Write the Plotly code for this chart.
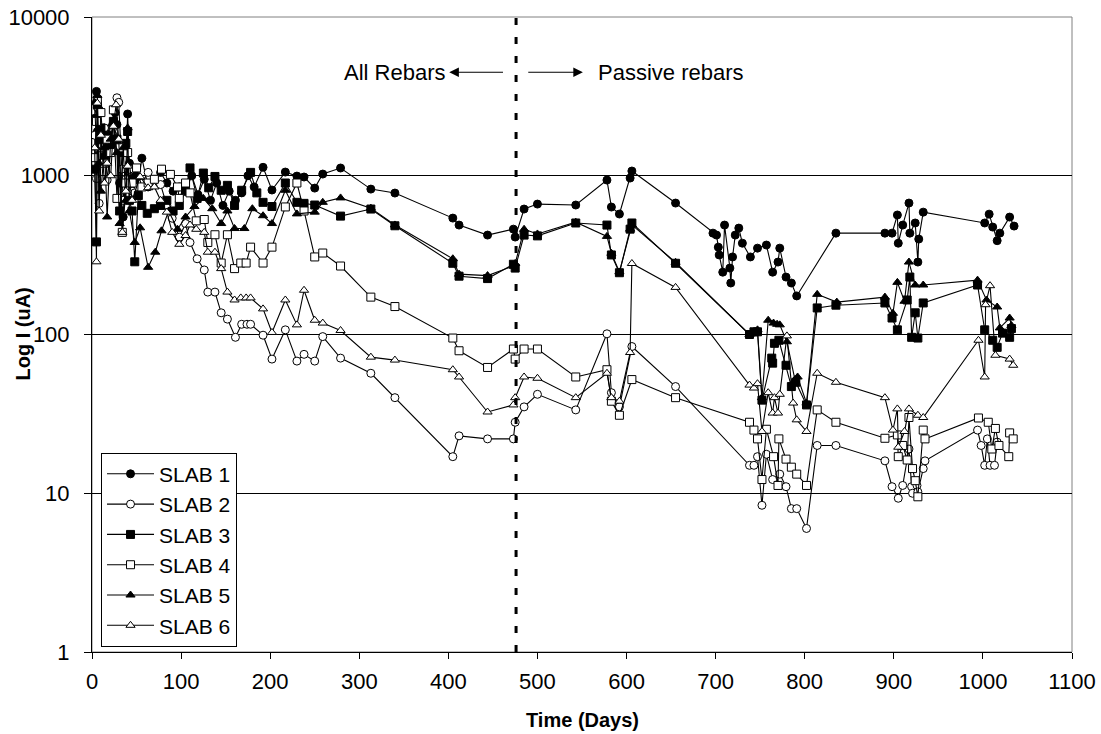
import plotly.graph_objects as go

# ---- Corrosion current readings per slab (Time in days, I in uA) ----
slab1_days = [3, 5, 6, 8, 10, 14, 17, 21, 24, 26, 28, 31, 35, 38, 40, 42, 45, 49, 52, 56, 63, 70, 77, 84, 91, 98,
              105, 112, 119, 126, 133, 140, 147, 154, 161, 168, 175, 182, 192, 202,
              217, 230, 238, 250, 259, 279, 313, 340, 405, 412, 444, 473, 475, 485, 500, 543, 578, 583, 592, 604, 606, 655,
              697, 701, 703, 704, 708, 710, 716, 717, 719, 722, 726, 730, 739, 747, 757, 764, 770, 772, 779, 785, 791, 835,
              890, 898, 904, 905, 910, 917, 918, 924, 927, 928, 933,
              1002, 1007, 1011, 1016, 1019, 1030, 1035]
slab1_vals = [2300, 3400, 1900, 2600, 1500, 1700, 1400, 2000, 1600, 2500, 2100, 900, 550, 1100, 2450, 1200, 950, 1000, 900, 1290, 850, 900, 1050, 900, 800, 850,
              800, 1000, 760, 950, 700, 900, 650, 800, 700, 780, 1000, 850, 1130, 813,
              1055, 995, 982, 836, 1025, 1119, 824, 778, 541, 489, 423, 461, 411, 617, 663, 654, 939, 635, 574, 967, 1071, 673,
              435, 423, 355, 317, 247, 489, 262, 211, 308, 423, 468, 376, 308, 350, 366, 247, 286, 350, 230, 211, 175, 435,
              435, 435, 566, 376, 489, 673, 435, 504, 286, 399, 590,
              504, 573, 475, 390, 435, 549, 482]

slab2_days = [3, 5, 6, 8, 10, 14, 17, 21, 24, 28, 30, 33, 35, 38, 42, 45, 48, 52, 56, 63, 70, 77, 84, 90, 98,
              105, 110, 118, 126, 130, 138, 145, 152, 161, 168, 174, 178, 192, 202,
              217, 230, 238, 250, 259, 279, 313, 340, 405, 412, 444, 473, 475, 485, 500, 543, 578, 583, 592, 606, 655,
              738, 743, 747, 752, 757, 764, 772, 779, 785, 791, 802, 814, 835,
              890, 898, 905, 910, 917, 920, 921, 926, 927, 933, 935,
              994, 998, 1002, 1005, 1008, 1013, 1016]
slab2_vals = [1800, 960, 2700, 670, 1200, 2000, 940, 1500, 1900, 3100, 2900, 1100, 700, 950, 1100, 800, 780, 850, 900, 1050, 920, 880, 650, 540, 410,
              500, 380, 300, 255, 185, 185, 137, 125, 96, 116, 116, 116, 99, 70,
              107, 68, 75, 68, 97, 71, 57, 40, 17, 23, 22, 22, 28, 35, 42, 33.5, 101, 43, 35, 84, 47,
              15, 15, 17, 8.4, 17.6, 12.2, 13.2, 11, 8, 8, 6, 20, 20,
              16, 11, 9.3, 11.2, 19, 11, 10, 11.2, 10.2, 14.3, 16,
              25, 20, 15, 22, 15, 15, 21]

slab3_days = [3, 5, 6, 8, 10, 14, 17, 21, 24, 28, 31, 35, 38, 40, 42, 45, 48, 52, 56, 62, 70, 77, 84, 91, 98,
              105, 110, 118, 125, 131, 138, 145, 152, 160, 168, 178, 185, 192, 202,
              217, 230, 238, 250, 279, 313, 340, 405, 412, 444, 473, 475, 485, 500, 543, 578, 583, 592, 604, 606, 655,
              738, 743, 747, 752, 763, 764, 766, 771, 779, 785, 790, 802, 814, 835,
              890, 898, 904, 915, 918, 920, 924, 927, 933,
              994, 1002, 1011, 1016, 1022, 1030, 1032]
slab3_vals = [1100, 383, 2800, 1600, 2000, 1300, 1800, 1500, 2200, 1700, 600, 1400, 1600, 1900, 700, 600, 287, 750, 650, 580, 620, 650, 700, 600, 650,
              800, 1120, 720, 1040, 840, 990, 810, 870, 650, 810, 1050, 780, 680, 640,
              900, 680, 670, 654, 557, 617, 484, 281, 233, 225, 277, 262, 423, 418, 504, 489, 317, 245, 461, 504, 281,
              100, 104, 104, 38.6, 71, 66, 88, 92, 64, 47, 50, 36, 147, 153,
              158, 127, 107, 165, 230, 96, 137, 95, 158,
              205, 107, 92, 83, 102, 96, 109]

slab4_days = [3, 5, 6, 8, 10, 14, 17, 21, 24, 28, 31, 34, 38, 40, 45, 50, 56, 63, 70, 78, 88, 96, 98,
              105, 110, 117, 126, 130, 138, 145, 152, 160, 167, 173, 178, 192, 202,
              217, 230, 238, 250, 259, 279, 313, 340, 405, 412, 444, 473, 475, 485, 500, 543, 578, 583, 592, 606, 655,
              738, 743, 747, 752, 757, 765, 770, 771, 779, 785, 791, 802, 814, 835,
              890, 904, 905, 910, 915, 917, 921, 924, 927, 933, 935,
              995, 1006, 1010, 1014, 1018, 1029, 1030, 1034]
slab4_vals = [1300, 2200, 3000, 1500, 2500, 1200, 1700, 1400, 2600, 720, 1500, 440, 900, 1400, 900, 1120, 850, 900, 950, 1100, 1020, 850, 720,
              900, 780, 520, 530, 380, 425, 282, 425, 260, 282, 282, 355, 282, 355,
              636, 900, 600, 308, 326, 270, 172, 150, 95, 79, 62, 81, 70, 81, 81, 54, 60, 38, 31, 52, 40,
              28, 25, 22, 12.2, 25.3, 17, 11.2, 22, 16.4, 14.6, 13.2, 11.2, 33.5, 28,
              22.2, 23.3, 17, 20, 16.2, 30, 14.3, 12, 9.5, 25, 22,
              29.8, 28, 19, 25.6, 20, 17, 24, 22]

slab5_days = [3, 5, 6, 8, 10, 14, 17, 21, 24, 28, 31, 35, 38, 40, 42, 48, 54, 63, 71, 78, 86, 96,
              105, 115, 125, 135, 145, 152, 160, 171, 180, 192, 202,
              217, 230, 250, 259, 279, 313, 340, 405, 412, 444, 473, 475, 485, 500, 543, 578, 583, 592, 604, 606, 655,
              738, 747, 752, 759, 765, 769, 772, 780, 789, 792, 802, 814, 836,
              890, 899, 904, 912, 917, 924, 933,
              994, 1004, 1016, 1019, 1030, 1032]
slab5_vals = [2900, 1500, 3200, 1200, 800, 1500, 550, 1700, 2200, 1400, 500, 1500, 700, 2000, 600, 380, 470, 265, 330, 450, 600, 460,
              550, 640, 720, 620, 500, 600, 465, 465, 620, 560, 500,
              810, 575, 590, 680, 725, 625, 490, 300, 240, 235, 270, 280, 460, 430, 510, 415, 325, 248, 461, 490, 285,
              100, 107, 40, 123, 118, 116, 115, 90, 52, 54, 37, 179, 160,
              172, 136, 213, 162, 286, 205, 205,
              220, 165, 149, 110, 127, 114]

slab6_days = [3, 5, 6, 8, 10, 14, 17, 21, 24, 27, 30, 34, 38, 40, 45, 54, 63, 70, 77, 84, 90, 98,
              105, 110, 117, 126, 130, 138, 145, 152, 160, 167, 173, 178, 192, 202,
              217, 230, 238, 250, 259, 279, 313, 340, 405, 412, 444, 473, 475, 485, 500, 543, 578, 583, 592, 604, 606, 655,
              738, 743, 747, 752, 759, 764, 766, 770, 772, 780, 787, 791, 802, 814, 835,
              890, 899, 904, 905, 912, 917, 927, 933,
              995, 1002, 1003, 1008, 1014, 1030, 1034]
slab6_vals = [1500, 287, 2870, 600, 1800, 900, 1200, 1000, 2050, 2800, 1700, 440, 800, 1150, 700, 985, 840, 850, 700, 590, 440, 370,
              420, 490, 460, 440, 330, 330, 260, 185, 165, 170, 170, 170, 145, 103,
              165, 115, 190, 123, 118, 106, 72, 69, 60, 54, 32.5, 36, 40, 54, 53, 40, 57, 40, 38, 77, 280, 198,
              48, 46, 49, 24.5, 43, 32, 40, 32, 42, 98, 37, 29, 24.5, 57, 50,
              40, 25, 34, 19.5, 24.5, 34, 31, 30,
              92, 54, 154, 203, 74, 70, 64]

series = [
    ("SLAB 1", slab1_days, slab1_vals, "circle", "black"),
    ("SLAB 2", slab2_days, slab2_vals, "circle", "white"),
    ("SLAB 3", slab3_days, slab3_vals, "square", "black"),
    ("SLAB 4", slab4_days, slab4_vals, "square", "white"),
    ("SLAB 5", slab5_days, slab5_vals, "triangle-up", "black"),
    ("SLAB 6", slab6_days, slab6_vals, "triangle-up", "white"),
]

# boundary between the "all rebars" and "passive rebars" periods
split_day = 476

FONT = "Liberation Sans, Arial, sans-serif"
LABEL_Y = 0.913  # vertical position (paper) of the period labels

fig = go.Figure()
for name, days, vals, sym, fill in series:
    fig.add_trace(go.Scatter(
        x=days, y=vals, name=name, mode="lines+markers", legendgroup=name,
        line=dict(color="black", width=1.1),
        marker=dict(symbol=sym, size=8, color=fill, line=dict(color="black", width=1)),
    ))

fig.update_layout(
    width=1101, height=734,
    margin=dict(l=92, r=29, t=17, b=82, autoexpand=False),
    paper_bgcolor="white", plot_bgcolor="white",
    font=dict(family=FONT, color="black", size=22),
    showlegend=True,
    legend=dict(
        x=0.0092, y=0.3139, xanchor="left", yanchor="top",
        bgcolor="white", bordercolor="black", borderwidth=1,
        font=dict(family=FONT, size=21, color="black"),
        tracegroupgap=0, itemwidth=47,
    ),
    xaxis=dict(
        range=[0, 1100], tick0=0, dtick=100,
        showgrid=False, zeroline=False, automargin=False,
        showline=True, linecolor="black", linewidth=1,
        ticks="outside", ticklen=6, tickcolor="black",
        ticklabelstandoff=4,
        tickfont=dict(family=FONT, size=22),
    ),
    yaxis=dict(
        type="log", range=[0, 4], automargin=False,
        tickvals=[1, 10, 100, 1000, 10000],
        ticktext=["1", "10", "100", "1000", "10000"],
        showgrid=True, gridcolor="black", gridwidth=1,
        zeroline=False,
        showline=True, linecolor="black", linewidth=1,
        ticks="outside", ticklen=7, tickcolor="black",
        ticklabelstandoff=10,
        tickfont=dict(family=FONT, size=22),
    ),
    shapes=[
        dict(type="rect", xref="paper", yref="paper", x0=0, x1=1, y0=0, y1=1,
             line=dict(color="#808080", width=1), layer="below"),
        dict(type="line", xref="x", yref="paper", x0=split_day, x1=split_day, y0=0, y1=1,
             line=dict(color="black", width=3, dash="7px,12px")),
    ],
    annotations=[
        # axis titles
        dict(text="<b>Time (Days)</b>", xref="paper", yref="paper", x=0.5, y=-0.107,
             xanchor="center", yanchor="middle", showarrow=False,
             font=dict(family=FONT, size=20)),
        dict(text="<b>Log I (uA)</b>", xref="paper", yref="paper", x=-0.0714, y=0.5,
             xanchor="center", yanchor="middle", showarrow=False, textangle=-90,
             font=dict(family=FONT, size=20)),
        # period labels and arrows
        dict(text="All Rebars", xref="x", yref="paper", x=399, y=LABEL_Y,
             xanchor="right", yanchor="middle", showarrow=False,
             font=dict(family=FONT, size=22)),
        dict(text="Passive rebars", xref="x", yref="paper", x=566, y=LABEL_Y,
             xanchor="left", yanchor="middle", showarrow=False,
             font=dict(family=FONT, size=22)),
        dict(text="", xref="x", yref="paper", x=401, y=LABEL_Y,
             ax=463, ay=0, axref="x", ayref="pixel",
             showarrow=True, arrowhead=2, arrowsize=1.6, arrowwidth=1.2, arrowcolor="black"),
        dict(text="", xref="x", yref="paper", x=551, y=LABEL_Y,
             ax=488, ay=0, axref="x", ayref="pixel",
             showarrow=True, arrowhead=2, arrowsize=1.6, arrowwidth=1.2, arrowcolor="black"),
    ],
)

fig.write_html("out.html")
